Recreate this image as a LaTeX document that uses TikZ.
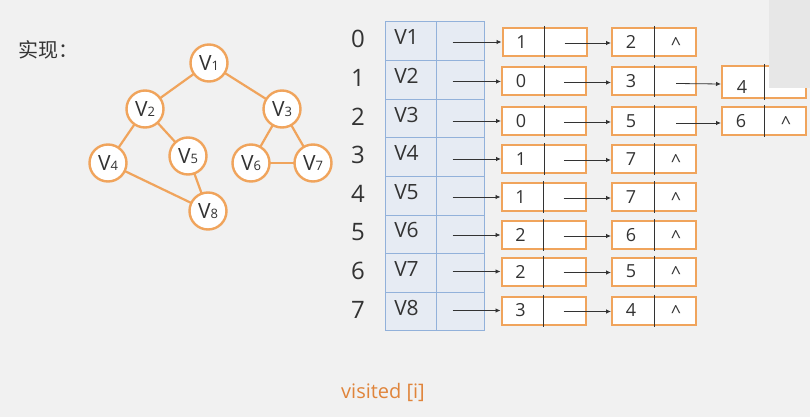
\documentclass[tikz,border=0pt]{standalone}
\usepackage{fontspec}
\setmainfont{Open Sans}
\newfontfamily\cjk{Noto Sans CJK SC}
\usetikzlibrary{arrows.meta,calc}
\definecolor{bg}{HTML}{F1F1F1}
\definecolor{org}{HTML}{F0A45C}
\definecolor{txt}{HTML}{333333}
\definecolor{tblfill}{HTML}{E6EBF3}
\definecolor{tblline}{HTML}{92B1DA}
\definecolor{vis}{HTML}{E0843A}
\definecolor{ovl}{HTML}{E7E7E7}
\begin{document}
\begin{tikzpicture}[x=1pt,y=-1pt,
  gnode/.style={circle,draw=org,line width=2.4pt,fill=white,minimum size=37pt,inner sep=0pt,text=txt},
  gedge/.style={draw=org,line width=2.2pt},
  cell/.style={rectangle,draw=tblline,line width=1pt,fill=tblfill,minimum height=38.6pt,inner sep=0pt},
  lbox/.style={rectangle,draw=org,line width=2pt,fill=white,minimum width=84pt,minimum height=28pt,inner sep=0pt},
  divider/.style={draw=txt,line width=1pt},
  ptr/.style={-{Latex[length=5pt,width=4.5pt]},line width=0.8pt,draw=txt},
  numtxt/.style={text=txt,font=\fontsize{18}{18}\selectfont,inner sep=0pt},
  vtxt/.style={text=txt,font=\fontsize{21}{21}\selectfont,inner sep=0pt},
  idxtxt/.style={text=txt,font=\fontsize{24}{24}\selectfont,inner sep=0pt},
]
\fill[bg] (0,0) rectangle (810,417);
\useasboundingbox (0,0) rectangle (810,417);

% title
\node[text=txt,inner sep=0pt] (title) at (48,50) {\cjk\fontsize{20}{20}\selectfont 实现：};

% graph
\newcommand{\vlab}[1]{\fontsize{21}{21}\selectfont V{\fontsize{13}{13}\selectfont #1}}
\coordinate (g1) at (209,63);
\coordinate (g2) at (145,109);
\coordinate (g3) at (282,109);
\coordinate (g4) at (108,163);
\coordinate (g5) at (188,156);
\coordinate (g6) at (251,163);
\coordinate (g7) at (313,163);
\coordinate (g8) at (208,211);
\foreach \a/\b in {1/2,1/3,2/4,2/5,3/6,3/7,6/7,4/8,5/8}
  \draw[gedge] (g\a) -- (g\b);
\foreach \k in {1,...,8}
  \node[gnode] (n\k) at (g\k) {\vlab{\k}};

% table
\foreach \i/\v in {0/V1,1/V2,2/V3,3/V4,4/V5,5/V6,6/V7,7/V8}{
  \pgfmathsetmacro{\rc}{22+38.6*\i+19.3}
  \node[cell,minimum width=51pt] (c\i) at (410.5,\rc) {};
  \node[cell,minimum width=48pt] (p\i) at (460,\rc) {};
  \node[vtxt] (v\i) at ($(c\i.center)+(-4,-4)$) {\v};
  \node[idxtxt] (idx\i) at ($(c\i.center)+(-52.5,-2)$) {\i};
}

% lists
\foreach \i/\y/\fx/\a/\b in {0/42/544.5/1/2,1/81.5/544/0/3,2/121/544/0/5,3/159/544/1/7,4/197/543.5/1/7,5/235/543.5/2/6,6/271.5/543.5/2/5,7/310.5/543.5/3/4}{
  \node[lbox] (f\i) at (\fx,\y) {};
  \draw[divider] ($(f\i.north)+(0,-1)$) -- ($(f\i.south)+(0,1)$);
  \node[numtxt] (fd\i) at ($(f\i.center)+(-23,0)$) {\a};
  \node[lbox] (s\i) at (654,\y) {};
  \draw[divider] ($(s\i.north)+(0,-1)$) -- ($(s\i.south)+(0,1)$);
  \node[numtxt] (sd\i) at ($(s\i.center)+(-23,0)$) {\b};
  \draw[ptr] ($(p\i.west |- f\i.west)+(17,0)$) -- (f\i.west);
  \draw[ptr] ($(f\i.center)+(20,1)$) -- ($(s\i.west)+(0,1)$);
}
\foreach \i in {0,3,4,5,6,7}
  \node[numtxt] (sc\i) at ($(s\i.center)+(22,2)$) {\^{}};

% third boxes
\node[lbox,minimum height=32pt] (t1) at (764,82) {};
\draw[divider] ($(t1.north)+(0,-1)$) -- ($(t1.south)+(0,1)$);
\node[numtxt] (td1) at (742,87) {4};
\draw[ptr] ($(s1.center)+(22,2)$) -- ($(t1.west)+(0,2)$);
\node[lbox] (t2) at (764,121) {};
\draw[divider] ($(t2.north)+(0,-1)$) -- ($(t2.south)+(0,1)$);
\node[numtxt] (td2) at ($(t2.center)+(-23,0)$) {6};
\node[numtxt] (tc2) at ($(t2.center)+(22,2)$) {\^{}};
\draw[ptr] ($(s2.center)+(22,2)$) -- ($(t2.west)+(0,2)$);

% overlay
\fill[ovl] (769,0) rectangle (810,88);

% visited
\node[text=vis,inner sep=0pt,font=\fontsize{20}{20}\selectfont] (vis) at (383,392) {visited [i]};
\end{tikzpicture}
\end{document}
